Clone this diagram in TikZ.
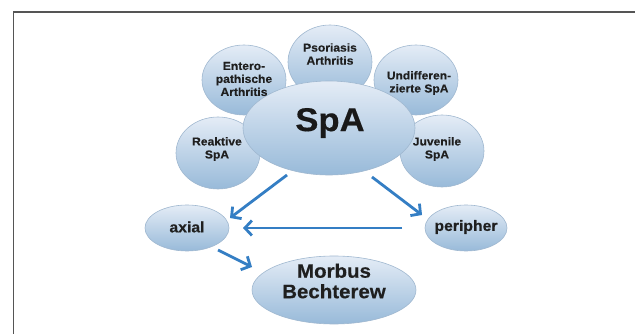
\documentclass[tikz,border=0pt]{standalone}
\usepackage{fontspec}
\newfontfamily\lab[FakeStretch=1.05,FakeBold=0.4]{Liberation Sans}
\usetikzlibrary{arrows.meta,shapes.geometric}
\definecolor{arrowblue}{RGB}{52,126,196}
\definecolor{btop}{RGB}{228,236,246}
\definecolor{bbot}{RGB}{152,186,217}
\definecolor{bedge}{RGB}{160,184,208}
\definecolor{framegray}{RGB}{85,85,85}
\begin{document}
\begin{tikzpicture}[x=1pt,y=-1pt,
  bubble/.style={ellipse, draw=bedge, line width=0.6pt, top color=btop, bottom color=bbot, inner sep=0pt},
  lbl/.style={font=\lab\bfseries\fontsize{11.5}{13}\selectfont, align=center, text=black!88, inner sep=0pt},
  mid/.style={font=\lab\bfseries\fontsize{15}{17}\selectfont, text=black!88, inner sep=0pt},
  big/.style={font=\lab\bfseries\fontsize{19.5}{20.5}\selectfont, align=center, text=black!88, inner sep=0pt},
  huge/.style={font=\lab\bfseries\fontsize{33}{35}\selectfont, text=black!90, inner sep=0pt},
  arr/.style={draw=arrowblue, line width=2.8pt, -{Straight Barb[length=7pt,width=15pt]}}]
\useasboundingbox[fill=white] (0,0) rectangle (635,334);
\draw[framegray, line width=1.6pt] (13.5,334) -- (13.5,12) -- (635,12);

\node[bubble, minimum width=84pt, minimum height=74pt] (pso) at (330,62) {};
\node[bubble, minimum width=84pt, minimum height=70pt] (ent) at (244,80) {};
\node[bubble, minimum width=84pt, minimum height=70pt] (und) at (416,80) {};
\node[bubble, minimum width=84pt, minimum height=72pt] (rea) at (218,153) {};
\node[bubble, minimum width=84pt, minimum height=72pt] (juv) at (442,151) {};
\node[bubble, minimum width=172pt, minimum height=94pt] (spa) at (329,128) {};
\node[bubble, minimum width=84pt, minimum height=46pt] (axial) at (187,228) {};
\node[bubble, minimum width=82pt, minimum height=46pt] (per) at (466,228) {};
\node[bubble, minimum width=164pt, minimum height=68pt] (mb) at (334,290) {};

\node[lbl] (psoT) at (330,54) {Psoriasis\\Arthritis};
\node[lbl] (entT) at (244,79) {Entero-\\pathische\\Arthritis};
\node[lbl] (undT) at (419,83) {Undifferen-\\zierte SpA};
\node[lbl] (reaT) at (217,149) {Reaktive\\SpA};
\node[lbl] (juvT) at (437,149) {Juvenile\\SpA};
\node[huge] (spaT) at (330,123) {SpA};
\node[mid] (axialT) at (187,227) {axial};
\node[mid] (perT) at (466,227) {peripher};
\node[big] (mbT) at (334,281) {Morbus\\Bechterew};

\coordinate (a1s) at (287,175);
\coordinate (a1e) at (230,218);
\coordinate (a2s) at (372,177);
\coordinate (a2e) at (422,215);
\coordinate (a3s) at (402,228);
\coordinate (a3e) at (243,228);
\coordinate (a4s) at (218,250);
\coordinate (a4e) at (252,267);
\draw[arr] (a1s) -- (a1e);
\draw[arr] (a2s) -- (a2e);
\draw[arr] (a3s) -- (a3e);
\draw[arr] (a4s) -- (a4e);
\end{tikzpicture}
\end{document}
